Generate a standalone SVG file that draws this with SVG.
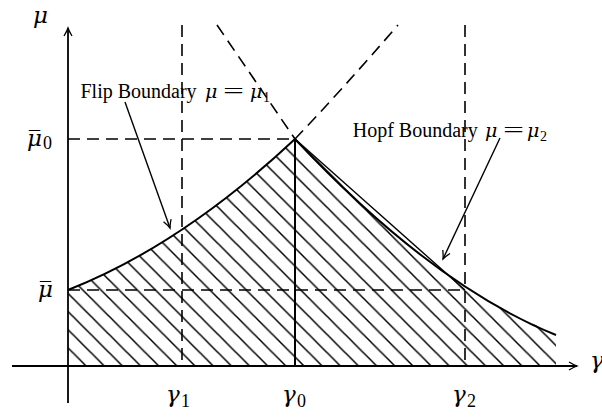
<svg xmlns="http://www.w3.org/2000/svg" width="602" height="418" viewBox="0 0 602 418">
<style>
.ax{stroke:#000;stroke-width:1.8;fill:none}
.cv{stroke:#000;stroke-width:2;fill:none}
.ds{stroke:#000;stroke-width:1.6;fill:none;stroke-dasharray:12 7}
.ar{stroke:#000;stroke-width:1.4;fill:none}
.t{font-family:"Liberation Serif","Times New Roman",serif;fill:#000}
.m{font-family:"DejaVu Serif",serif;font-style:italic;fill:#000}
</style>
<defs>
<marker id="ah" markerUnits="userSpaceOnUse" markerWidth="16" markerHeight="16" refX="0" refY="0" viewBox="-10 -8 12 16" orient="auto">
<path d="M-8,-4 Q-3,-1 0,0 Q-3,1 -8,4" stroke="#000" stroke-width="1.3" fill="none"/>
</marker>
<pattern id="hatch" patternUnits="userSpaceOnUse" x="0" y="7.44" width="18.16" height="18.16">
<path d="M-2,-2 L20.16,20.16 M-2,16.16 L2,20.16 M16.16,-2 L20.16,2" stroke="#000" stroke-width="1.5"/>
</pattern>
</defs>
<g id="region">
<path d="M68,366 L68,290 Q182,245 295,139 L465,290 L556,335 L556,366 Z" fill="url(#hatch)" stroke="none"/>
</g>
<g id="connectors">
<path class="ds" d="M68,139 L295,139"/>
<path class="ds" d="M68,290 L465,290"/>
<path class="ds" d="M182,25 L182,366"/>
<path class="ds" d="M465,25 L465,366"/>
<path class="ds" d="M217,25 L295,139"/>
<path class="ds" d="M295,139 Q340,92 398,25"/>
<path class="cv" d="M68,290 Q182,245 295,139"/>
<path class="cv" d="M295,139 Q432,285 556,335"/>
<path class="ar" d="M295,139 L465,290"/>
<path class="cv" d="M295,139 L295,366"/>
<path class="ax" d="M68,403 L68,28" marker-end="url(#ah)"/>
<path class="ax" d="M12,366 L577,366" marker-end="url(#ah)"/>
<path class="ar" d="M125,102 L170,228" marker-end="url(#ah)"/>
<path class="ar" d="M500,138 L443,259" marker-end="url(#ah)"/>
</g>
<g id="labels">
<text class="m" x="33" y="23" font-size="23">μ</text>
<text class="m" x="27" y="146" font-size="23">μ</text>
<text class="t" x="29" y="146" font-size="22">¯</text>
<text class="t" x="43" y="149" font-size="18">0</text>
<text class="m" x="38" y="297" font-size="23">μ</text>
<text class="t" x="40" y="297" font-size="22">¯</text>
<text class="m" x="166" y="402" font-size="23">γ</text>
<text class="t" x="181" y="407" font-size="18">1</text>
<text class="m" x="282" y="402" font-size="23">γ</text>
<text class="t" x="297" y="407" font-size="18">0</text>
<text class="m" x="452" y="402" font-size="23">γ</text>
<text class="t" x="467" y="407" font-size="18">2</text>
<text class="m" x="590" y="368" font-size="23">γ</text>
</g>
<g id="flip-label">
<text class="t" x="80.5" y="98" font-size="20">Flip Boundary</text>
<text class="m" x="205" y="98" font-size="19">μ</text>
<text class="t" x="223" y="98" font-size="20" textLength="21" lengthAdjust="spacingAndGlyphs">=</text>
<text class="m" x="250" y="98" font-size="19">μ</text>
<text class="t" x="263" y="102" font-size="14">1</text>
</g>
<g id="hopf-label">
<text class="t" x="352.7" y="137" font-size="20">Hopf Boundary</text>
<text class="m" x="485" y="137" font-size="19">μ</text>
<text class="t" x="503" y="137" font-size="20" textLength="21" lengthAdjust="spacingAndGlyphs">=</text>
<text class="m" x="527" y="137" font-size="19">μ</text>
<text class="t" x="540" y="141" font-size="14">2</text>
</g>
</svg>
